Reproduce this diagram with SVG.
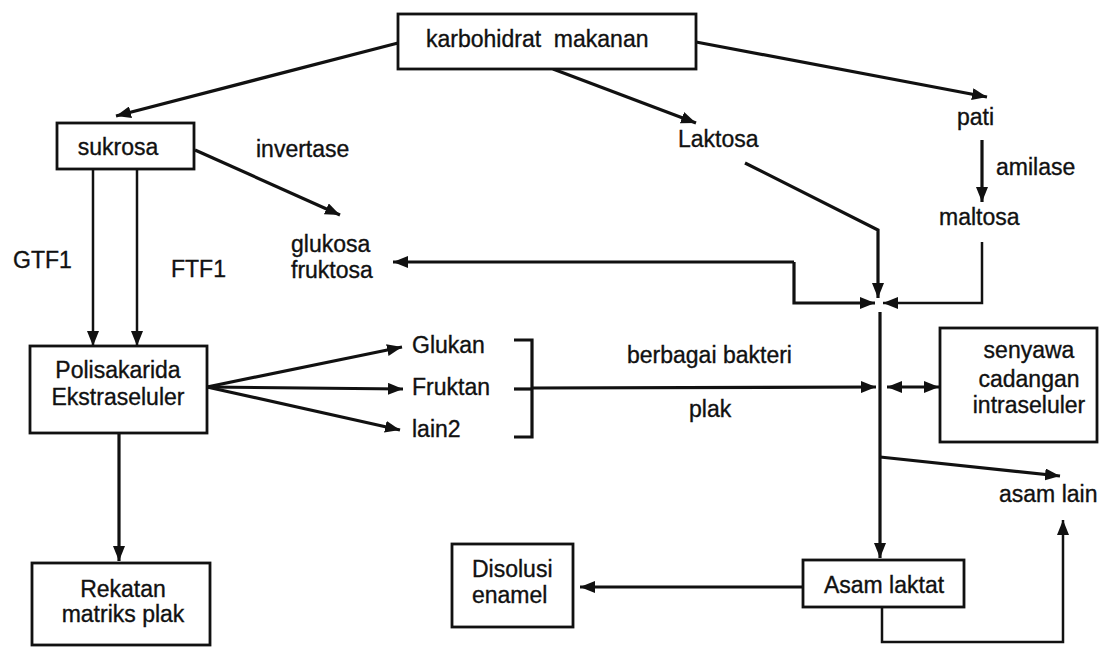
<svg xmlns="http://www.w3.org/2000/svg" width="1100" height="647" viewBox="0 0 1100 647">
<style>
text{font-family:"Liberation Sans",Arial,sans-serif;font-size:23px;fill:#111;stroke:#111;stroke-width:0.35}
.c{text-anchor:middle}
.box{fill:#fff;stroke:#111;stroke-width:2.8}
.ln{fill:none;stroke:#111;stroke-width:3.2}
.th{fill:none;stroke:#111;stroke-width:2.5}
</style>
<defs>
<marker id="ah" viewBox="0 0 15 12" refX="15" refY="6" markerWidth="15" markerHeight="12" markerUnits="userSpaceOnUse" orient="auto-start-reverse">
<path d="M0,0 L15,6 L0,12 z" fill="#111"/>
</marker>
</defs>
<rect width="1100" height="647" fill="#fff"/>
<g id="connectors">
<line class="ln" x1="398" y1="43" x2="116" y2="116" marker-end="url(#ah)"/>
<line class="ln" x1="553" y1="69" x2="696" y2="123" marker-end="url(#ah)"/>
<line class="ln" x1="696" y1="42" x2="987" y2="97" marker-end="url(#ah)"/>
<line class="ln" x1="195" y1="150" x2="340" y2="215" marker-end="url(#ah)"/>
<line class="ln" x1="982" y1="140" x2="982" y2="202" marker-end="url(#ah)"/>
<line class="th" x1="93" y1="169" x2="93" y2="346" marker-end="url(#ah)"/>
<line class="th" x1="137" y1="169" x2="137" y2="346" marker-end="url(#ah)"/>
<polyline class="ln" points="745,163 878,230 878,298" marker-end="url(#ah)"/>
<polyline class="ln" points="794,262 794,303 875,303" marker-end="url(#ah)"/>
<line class="ln" x1="794" y1="262" x2="393" y2="262" marker-end="url(#ah)"/>
<polyline class="th" points="982,242 982,303 883,303" marker-end="url(#ah)"/>
<line class="ln" x1="207" y1="387" x2="402" y2="347" marker-end="url(#ah)"/>
<line class="ln" x1="207" y1="387" x2="403" y2="389" marker-end="url(#ah)"/>
<line class="ln" x1="207" y1="387" x2="400" y2="430" marker-end="url(#ah)"/>
<polyline class="ln" points="514,340 532,340 532,437 514,437"/>
<line class="ln" x1="514" y1="389" x2="532" y2="389"/>
<line class="ln" x1="532" y1="388" x2="876" y2="387" marker-end="url(#ah)"/>
<line class="ln" x1="887" y1="387" x2="939" y2="387" marker-start="url(#ah)" marker-end="url(#ah)"/>
<line class="ln" x1="880" y1="312" x2="880" y2="558" marker-end="url(#ah)"/>
<line class="ln" x1="880" y1="457" x2="1060" y2="476" marker-end="url(#ah)"/>
<line class="ln" x1="119" y1="433" x2="119" y2="561" marker-end="url(#ah)"/>
<line class="ln" x1="803" y1="587" x2="580" y2="587" marker-end="url(#ah)"/>
<polyline class="th" points="882,607 882,642 1063,642 1063,520" marker-end="url(#ah)"/>
</g>
<g id="node-karbohidrat">
<rect class="box" x="398" y="14" width="298" height="55"/>
<text x="426" y="47" xml:space="preserve">karbohidrat  makanan</text>
</g>
<g id="node-sukrosa">
<rect class="box" x="57" y="123" width="137" height="46"/>
<text x="118" y="155" class="c">sukrosa</text>
</g>
<g id="label-invertase"><text x="256" y="157">invertase</text></g>
<g id="node-glukosa"><text x="291" y="252">glukosa</text><text x="291" y="278">fruktosa</text></g>
<g id="node-laktosa"><text x="678" y="147">Laktosa</text></g>
<g id="node-pati"><text x="957" y="125">pati</text></g>
<g id="label-amilase"><text x="996" y="175">amilase</text></g>
<g id="node-maltosa"><text x="939" y="225">maltosa</text></g>
<g id="label-gtf"><text x="13" y="268">GTF1</text></g>
<g id="label-ftf"><text x="171" y="277">FTF1</text></g>
<g id="node-polisakarida">
<rect class="box" x="30" y="346" width="177" height="87"/>
<text x="118" y="378" class="c">Polisakarida</text>
<text x="118" y="405" class="c">Ekstraseluler</text>
</g>
<g id="node-glukan"><text x="412" y="353">Glukan</text></g>
<g id="node-fruktan"><text x="412" y="395">Fruktan</text></g>
<g id="node-lain2"><text x="412" y="437">lain2</text></g>
<g id="label-bakteri"><text x="627" y="363">berbagai bakteri</text><text x="689" y="417">plak</text></g>
<g id="node-senyawa">
<rect class="box" x="940" y="328" width="157" height="114"/>
<text x="1029" y="358" class="c">senyawa</text>
<text x="1029" y="387" class="c">cadangan</text>
<text x="1029" y="413" class="c">intraseluler</text>
</g>
<g id="node-asamlain"><text x="999" y="502">asam lain</text></g>
<g id="node-asamlaktat">
<rect class="box" x="803" y="560" width="161" height="47"/>
<text x="884" y="593" class="c">Asam laktat</text>
</g>
<g id="node-disolusi">
<rect class="box" x="452" y="544" width="121" height="83"/>
<text x="472" y="577">Disolusi</text>
<text x="472" y="603">enamel</text>
</g>
<g id="node-rekatan">
<rect class="box" x="32" y="563" width="178" height="82"/>
<text x="123" y="597" class="c">Rekatan</text>
<text x="123" y="622" class="c">matriks plak</text>
</g>
</svg>
